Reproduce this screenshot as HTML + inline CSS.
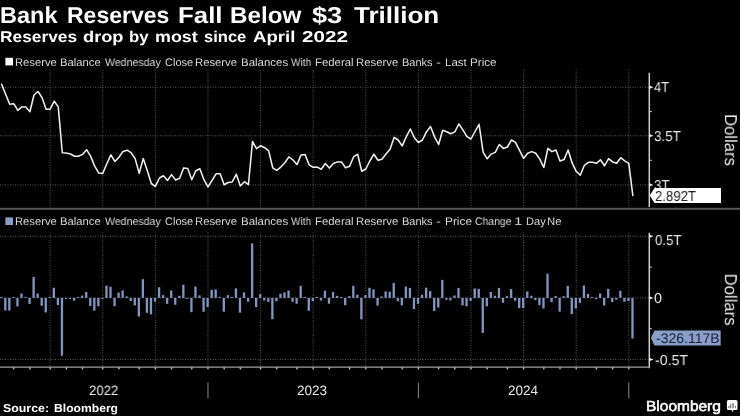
<!DOCTYPE html>
<html><head><meta charset="utf-8"><style>
html,body{margin:0;padding:0;background:#000;width:740px;height:416px;overflow:hidden}
body{position:relative;font-family:"Liberation Sans",sans-serif;color:#fff}
.t{position:absolute;white-space:pre;line-height:1;transform-origin:0 0;text-rendering:geometricPrecision;will-change:transform}
svg{position:absolute;left:0;top:0}
</style></head><body>
<svg width="740" height="416" viewBox="0 0 740 416">
<g stroke="#5a5a5a" stroke-width="1" stroke-dasharray="1 1.5" fill="none"><line x1="50.16" y1="69.8" x2="50.16" y2="207.5"/><line x1="102.76" y1="69.8" x2="102.76" y2="207.5"/><line x1="155.36" y1="69.8" x2="155.36" y2="207.5"/><line x1="207.97" y1="69.8" x2="207.97" y2="207.5"/><line x1="260.57" y1="69.8" x2="260.57" y2="207.5"/><line x1="313.17" y1="69.8" x2="313.17" y2="207.5"/><line x1="365.78" y1="69.8" x2="365.78" y2="207.5"/><line x1="418.38" y1="69.8" x2="418.38" y2="207.5"/><line x1="470.98" y1="69.8" x2="470.98" y2="207.5"/><line x1="523.59" y1="69.8" x2="523.59" y2="207.5"/><line x1="576.19" y1="69.8" x2="576.19" y2="207.5"/><line x1="628.79" y1="69.8" x2="628.79" y2="207.5"/><line x1="50.16" y1="232.4" x2="50.16" y2="366.5"/><line x1="102.76" y1="232.4" x2="102.76" y2="366.5"/><line x1="155.36" y1="232.4" x2="155.36" y2="366.5"/><line x1="207.97" y1="232.4" x2="207.97" y2="366.5"/><line x1="260.57" y1="232.4" x2="260.57" y2="366.5"/><line x1="313.17" y1="232.4" x2="313.17" y2="366.5"/><line x1="365.78" y1="232.4" x2="365.78" y2="366.5"/><line x1="418.38" y1="232.4" x2="418.38" y2="366.5"/><line x1="470.98" y1="232.4" x2="470.98" y2="366.5"/><line x1="523.59" y1="232.4" x2="523.59" y2="366.5"/><line x1="576.19" y1="232.4" x2="576.19" y2="366.5"/><line x1="628.79" y1="232.4" x2="628.79" y2="366.5"/><line x1="0" y1="87.3" x2="649.3" y2="87.3"/><line x1="0" y1="135.8" x2="649.3" y2="135.8"/><line x1="0" y1="184.9" x2="649.3" y2="184.9"/><line x1="0" y1="236.3" x2="649.3" y2="236.3"/><line x1="0" y1="297.9" x2="649.3" y2="297.9"/><line x1="0" y1="359.5" x2="649.3" y2="359.5"/></g>
<rect x="0" y="207.8" width="740" height="2" fill="#585858"/>
<g fill="#8296c2"><rect x="0.10" y="296.90" width="2.3" height="1.00"/><rect x="4.15" y="297.90" width="2.3" height="12.62"/><rect x="8.19" y="297.90" width="2.3" height="12.62"/><rect x="12.24" y="296.90" width="2.3" height="1.00"/><rect x="16.29" y="297.90" width="2.3" height="8.46"/><rect x="20.33" y="293.48" width="2.3" height="4.42"/><rect x="24.38" y="296.90" width="2.3" height="1.00"/><rect x="28.42" y="297.90" width="2.3" height="6.06"/><rect x="32.47" y="276.82" width="2.3" height="21.08"/><rect x="36.52" y="293.48" width="2.3" height="4.42"/><rect x="40.56" y="297.90" width="2.3" height="7.83"/><rect x="44.61" y="297.90" width="2.3" height="14.52"/><rect x="48.66" y="296.90" width="2.3" height="1.00"/><rect x="52.70" y="287.80" width="2.3" height="10.10"/><rect x="56.75" y="297.90" width="2.3" height="7.20"/><rect x="60.80" y="297.90" width="2.3" height="57.81"/><rect x="64.84" y="297.90" width="2.3" height="1.00"/><rect x="68.89" y="297.90" width="2.3" height="1.14"/><rect x="72.94" y="297.90" width="2.3" height="2.78"/><rect x="76.98" y="296.90" width="2.3" height="1.00"/><rect x="81.03" y="295.63" width="2.3" height="2.27"/><rect x="85.07" y="291.97" width="2.3" height="5.93"/><rect x="89.12" y="297.90" width="2.3" height="8.08"/><rect x="93.17" y="297.90" width="2.3" height="12.75"/><rect x="97.21" y="297.90" width="2.3" height="8.46"/><rect x="101.26" y="297.90" width="2.3" height="1.00"/><rect x="105.31" y="285.66" width="2.3" height="12.24"/><rect x="109.35" y="286.79" width="2.3" height="11.11"/><rect x="113.40" y="297.90" width="2.3" height="8.33"/><rect x="117.45" y="292.60" width="2.3" height="5.30"/><rect x="121.49" y="290.45" width="2.3" height="7.45"/><rect x="125.54" y="296.39" width="2.3" height="1.51"/><rect x="129.58" y="297.90" width="2.3" height="3.16"/><rect x="133.63" y="297.90" width="2.3" height="7.45"/><rect x="137.68" y="297.90" width="2.3" height="18.68"/><rect x="141.72" y="279.22" width="2.3" height="18.68"/><rect x="145.77" y="297.90" width="2.3" height="14.90"/><rect x="149.82" y="297.90" width="2.3" height="16.54"/><rect x="153.86" y="297.90" width="2.3" height="3.66"/><rect x="157.91" y="287.30" width="2.3" height="10.60"/><rect x="161.96" y="295.12" width="2.3" height="2.78"/><rect x="166.00" y="297.90" width="2.3" height="5.93"/><rect x="170.05" y="290.45" width="2.3" height="7.45"/><rect x="174.10" y="297.90" width="2.3" height="6.82"/><rect x="178.14" y="295.75" width="2.3" height="2.15"/><rect x="182.19" y="284.77" width="2.3" height="13.13"/><rect x="186.23" y="297.90" width="2.3" height="1.00"/><rect x="190.28" y="297.90" width="2.3" height="14.26"/><rect x="194.33" y="286.54" width="2.3" height="11.36"/><rect x="198.37" y="295.38" width="2.3" height="2.52"/><rect x="202.42" y="297.90" width="2.3" height="13.89"/><rect x="206.47" y="297.90" width="2.3" height="9.09"/><rect x="210.51" y="289.82" width="2.3" height="8.08"/><rect x="214.56" y="289.44" width="2.3" height="8.46"/><rect x="218.61" y="296.90" width="2.3" height="1.00"/><rect x="222.65" y="297.90" width="2.3" height="13.76"/><rect x="226.70" y="295.12" width="2.3" height="2.78"/><rect x="230.74" y="296.90" width="2.3" height="1.00"/><rect x="234.79" y="288.31" width="2.3" height="9.59"/><rect x="238.84" y="297.90" width="2.3" height="14.77"/><rect x="242.88" y="292.47" width="2.3" height="5.43"/><rect x="246.93" y="297.90" width="2.3" height="3.79"/><rect x="250.98" y="243.37" width="2.3" height="54.53"/><rect x="255.02" y="297.90" width="2.3" height="9.09"/><rect x="259.07" y="294.11" width="2.3" height="3.79"/><rect x="263.12" y="297.90" width="2.3" height="2.52"/><rect x="267.16" y="297.90" width="2.3" height="4.04"/><rect x="271.21" y="297.90" width="2.3" height="21.33"/><rect x="275.26" y="297.90" width="2.3" height="3.28"/><rect x="279.30" y="293.73" width="2.3" height="4.17"/><rect x="283.35" y="292.35" width="2.3" height="5.55"/><rect x="287.39" y="290.58" width="2.3" height="7.32"/><rect x="291.44" y="297.90" width="2.3" height="3.91"/><rect x="295.49" y="297.90" width="2.3" height="5.81"/><rect x="299.53" y="285.78" width="2.3" height="12.12"/><rect x="303.58" y="296.90" width="2.3" height="1.00"/><rect x="307.63" y="297.90" width="2.3" height="12.88"/><rect x="311.67" y="297.90" width="2.3" height="3.16"/><rect x="315.72" y="296.90" width="2.3" height="1.00"/><rect x="319.77" y="297.90" width="2.3" height="2.65"/><rect x="323.81" y="290.70" width="2.3" height="7.20"/><rect x="327.86" y="297.90" width="2.3" height="5.81"/><rect x="331.90" y="292.09" width="2.3" height="5.81"/><rect x="335.95" y="295.88" width="2.3" height="2.02"/><rect x="340.00" y="296.90" width="2.3" height="1.00"/><rect x="344.04" y="297.90" width="2.3" height="7.32"/><rect x="348.09" y="296.13" width="2.3" height="1.77"/><rect x="352.14" y="285.78" width="2.3" height="12.12"/><rect x="356.18" y="294.74" width="2.3" height="3.16"/><rect x="360.23" y="297.90" width="2.3" height="21.46"/><rect x="364.28" y="295.12" width="2.3" height="2.78"/><rect x="368.32" y="287.80" width="2.3" height="10.10"/><rect x="372.37" y="289.32" width="2.3" height="8.58"/><rect x="376.42" y="297.90" width="2.3" height="7.70"/><rect x="380.46" y="296.51" width="2.3" height="1.39"/><rect x="384.51" y="291.46" width="2.3" height="6.44"/><rect x="388.55" y="291.71" width="2.3" height="6.19"/><rect x="392.60" y="283.00" width="2.3" height="14.90"/><rect x="396.65" y="297.90" width="2.3" height="3.28"/><rect x="400.69" y="297.90" width="2.3" height="7.45"/><rect x="404.74" y="286.54" width="2.3" height="11.36"/><rect x="408.79" y="287.93" width="2.3" height="9.97"/><rect x="412.83" y="297.90" width="2.3" height="11.11"/><rect x="416.88" y="297.90" width="2.3" height="5.93"/><rect x="420.93" y="294.74" width="2.3" height="3.16"/><rect x="424.97" y="287.68" width="2.3" height="10.22"/><rect x="429.02" y="291.08" width="2.3" height="6.82"/><rect x="433.06" y="297.90" width="2.3" height="13.13"/><rect x="437.11" y="297.90" width="2.3" height="9.59"/><rect x="441.16" y="279.85" width="2.3" height="18.05"/><rect x="445.20" y="297.90" width="2.3" height="1.89"/><rect x="449.25" y="297.90" width="2.3" height="2.65"/><rect x="453.30" y="295.50" width="2.3" height="2.40"/><rect x="457.34" y="287.93" width="2.3" height="9.97"/><rect x="461.39" y="297.90" width="2.3" height="7.45"/><rect x="465.44" y="297.90" width="2.3" height="8.46"/><rect x="469.48" y="297.90" width="2.3" height="3.03"/><rect x="473.53" y="288.43" width="2.3" height="9.47"/><rect x="477.58" y="288.81" width="2.3" height="9.09"/><rect x="481.62" y="297.90" width="2.3" height="35.09"/><rect x="485.67" y="297.90" width="2.3" height="8.46"/><rect x="489.71" y="291.97" width="2.3" height="5.93"/><rect x="493.76" y="295.75" width="2.3" height="2.15"/><rect x="497.81" y="287.93" width="2.3" height="9.97"/><rect x="501.85" y="297.90" width="2.3" height="4.92"/><rect x="505.90" y="296.13" width="2.3" height="1.77"/><rect x="509.95" y="289.06" width="2.3" height="8.84"/><rect x="513.99" y="297.90" width="2.3" height="2.90"/><rect x="518.04" y="297.90" width="2.3" height="10.22"/><rect x="522.09" y="297.90" width="2.3" height="10.10"/><rect x="526.13" y="291.46" width="2.3" height="6.44"/><rect x="530.18" y="295.75" width="2.3" height="2.15"/><rect x="534.22" y="297.90" width="2.3" height="2.15"/><rect x="538.27" y="297.90" width="2.3" height="7.32"/><rect x="542.32" y="297.90" width="2.3" height="10.60"/><rect x="546.36" y="273.66" width="2.3" height="24.24"/><rect x="550.41" y="297.90" width="2.3" height="4.17"/><rect x="554.46" y="295.88" width="2.3" height="2.02"/><rect x="558.50" y="297.90" width="2.3" height="13.76"/><rect x="562.55" y="296.26" width="2.3" height="1.64"/><rect x="566.60" y="285.78" width="2.3" height="12.12"/><rect x="570.64" y="297.90" width="2.3" height="16.28"/><rect x="574.69" y="297.90" width="2.3" height="10.60"/><rect x="578.74" y="297.90" width="2.3" height="5.05"/><rect x="582.78" y="285.53" width="2.3" height="12.37"/><rect x="586.83" y="293.86" width="2.3" height="4.04"/><rect x="590.87" y="296.90" width="2.3" height="1.00"/><rect x="594.92" y="297.90" width="2.3" height="1.26"/><rect x="598.97" y="293.48" width="2.3" height="4.42"/><rect x="603.01" y="297.90" width="2.3" height="7.57"/><rect x="607.06" y="288.81" width="2.3" height="9.09"/><rect x="611.11" y="297.90" width="2.3" height="4.17"/><rect x="615.15" y="297.90" width="2.3" height="1.77"/><rect x="619.20" y="290.83" width="2.3" height="7.07"/><rect x="623.25" y="297.90" width="2.3" height="3.91"/><rect x="627.29" y="297.90" width="2.3" height="3.16"/><rect x="631.34" y="297.90" width="2.3" height="40.65"/></g>
<polyline points="1.60,84.20 5.65,94.20 9.69,104.20 13.74,103.70 17.79,110.40 21.83,106.90 25.88,106.90 29.92,111.70 33.97,95.00 38.02,91.50 42.06,97.70 46.11,109.20 50.16,109.20 54.20,101.20 58.25,106.90 62.30,152.70 66.34,153.10 70.39,154.00 74.44,156.20 78.48,156.20 82.53,154.40 86.57,149.70 90.62,156.10 94.67,166.20 98.71,172.90 102.76,173.40 106.81,163.70 110.85,154.90 114.90,161.50 118.95,157.30 122.99,151.40 127.04,150.20 131.08,152.70 135.13,158.60 139.18,173.40 143.22,158.60 147.27,170.40 151.32,183.50 155.36,186.40 159.41,178.00 163.46,175.80 167.50,180.50 171.55,174.60 175.60,180.00 179.64,178.30 183.69,167.90 187.73,168.40 191.78,179.70 195.83,170.70 199.87,168.70 203.92,179.70 207.97,186.90 212.01,180.50 216.06,173.80 220.11,173.80 224.15,184.70 228.20,182.50 232.24,181.90 236.29,174.30 240.34,186.00 244.38,181.70 248.43,184.70 252.48,141.50 256.52,148.70 260.57,145.70 264.62,147.70 268.66,150.90 272.71,167.80 276.76,170.40 280.80,167.10 284.85,162.70 288.89,156.90 292.94,160.00 296.99,164.60 301.03,155.00 305.08,154.60 309.13,164.80 313.17,167.30 317.22,167.10 321.27,169.20 325.31,163.50 329.36,168.10 333.40,163.50 337.45,161.90 341.50,161.90 345.54,167.70 349.59,166.30 353.64,156.70 357.68,154.20 361.73,171.20 365.78,169.00 369.82,161.00 373.87,154.20 377.92,160.30 381.96,159.20 386.01,154.10 390.05,149.20 394.10,137.40 398.15,140.00 402.19,145.90 406.24,136.90 410.29,129.00 414.33,137.80 418.38,142.50 422.43,140.00 426.47,131.90 430.52,126.50 434.56,136.90 438.61,144.50 442.66,130.20 446.70,131.70 450.75,133.80 454.80,131.90 458.84,124.00 462.89,129.90 466.94,136.60 470.98,139.00 475.03,131.50 479.08,124.30 483.12,152.10 487.17,158.80 491.21,154.10 495.26,152.40 499.31,144.50 503.35,148.40 507.40,147.00 511.45,140.00 515.49,142.30 519.54,150.40 523.59,158.40 527.63,153.30 531.68,151.60 535.72,153.30 539.77,159.10 543.82,167.50 547.86,148.30 551.91,151.60 555.96,150.00 560.00,160.90 564.05,159.60 568.10,150.00 572.14,162.90 576.19,171.30 580.24,175.30 584.28,165.50 588.33,162.30 592.37,162.30 596.42,163.30 600.47,159.80 604.51,165.80 608.56,158.60 612.61,161.90 616.65,163.30 620.70,157.70 624.75,160.80 628.79,163.30 632.84,195.50" fill="none" stroke="#f0f0f0" stroke-width="1.55" stroke-linejoin="round" stroke-linecap="round"/>
<g stroke="#cfcfcf" stroke-width="1.5">
<line x1="649.3" y1="72.7" x2="649.3" y2="207"/>
<line x1="649.3" y1="232.7" x2="649.3" y2="368.2"/>
</g>
<g fill="#ededed"><path d="M649.3 85.6 L653.5 87.3 L649.3 89.0 Z"/><path d="M649.3 134.10000000000002 L653.5 135.8 L649.3 137.5 Z"/><path d="M649.3 183.20000000000002 L653.5 184.9 L649.3 186.6 Z"/><path d="M649.3 234.60000000000002 L653.5 236.3 L649.3 238.0 Z"/><path d="M649.3 296.2 L653.5 297.9 L649.3 299.59999999999997 Z"/><path d="M649.3 357.8 L653.5 359.5 L649.3 361.2 Z"/></g>
<g stroke="#cfcfcf" stroke-width="1"><line x1="649.3" y1="111.6" x2="651.8" y2="111.6"/><line x1="649.3" y1="160.3" x2="651.8" y2="160.3"/><line x1="649.3" y1="267.1" x2="651.8" y2="267.1"/><line x1="649.3" y1="328.7" x2="651.8" y2="328.7"/></g>
<line x1="0" y1="367.2" x2="650.0" y2="367.2" stroke="#a0a0a0" stroke-width="1.3"/>
<g fill="#b4b4b4"><path d="M12.44 367.5 L15.04 367.5 L13.74 370 Z"/><path d="M28.62 367.5 L31.22 367.5 L29.92 370 Z"/><path d="M48.86 367.5 L51.46 367.5 L50.16 370 Z"/><path d="M65.04 367.5 L67.64 367.5 L66.34 370 Z"/><path d="M81.23 367.5 L83.83 367.5 L82.53 370 Z"/><path d="M101.46 367.5 L104.06 367.5 L102.76 370 Z"/><path d="M117.65 367.5 L120.25 367.5 L118.95 370 Z"/><path d="M137.88 367.5 L140.48 367.5 L139.18 370 Z"/><path d="M154.06 367.5 L156.66 367.5 L155.36 370 Z"/><path d="M170.25 367.5 L172.85 367.5 L171.55 370 Z"/><path d="M190.48 367.5 L193.08 367.5 L191.78 370 Z"/><path d="M206.67 367.5 L209.27 367.5 L207.97 370 Z"/><path d="M222.85 367.5 L225.45 367.5 L224.15 370 Z"/><path d="M239.04 367.5 L241.64 367.5 L240.34 370 Z"/><path d="M259.27 367.5 L261.87 367.5 L260.57 370 Z"/><path d="M275.46 367.5 L278.06 367.5 L276.76 370 Z"/><path d="M295.69 367.5 L298.29 367.5 L296.99 370 Z"/><path d="M311.87 367.5 L314.47 367.5 L313.17 370 Z"/><path d="M328.06 367.5 L330.66 367.5 L329.36 370 Z"/><path d="M348.29 367.5 L350.89 367.5 L349.59 370 Z"/><path d="M364.48 367.5 L367.08 367.5 L365.78 370 Z"/><path d="M380.66 367.5 L383.26 367.5 L381.96 370 Z"/><path d="M400.89 367.5 L403.49 367.5 L402.19 370 Z"/><path d="M417.08 367.5 L419.68 367.5 L418.38 370 Z"/><path d="M437.31 367.5 L439.91 367.5 L438.61 370 Z"/><path d="M453.50 367.5 L456.10 367.5 L454.80 370 Z"/><path d="M469.68 367.5 L472.28 367.5 L470.98 370 Z"/><path d="M485.87 367.5 L488.47 367.5 L487.17 370 Z"/><path d="M506.10 367.5 L508.70 367.5 L507.40 370 Z"/><path d="M522.29 367.5 L524.89 367.5 L523.59 370 Z"/><path d="M542.52 367.5 L545.12 367.5 L543.82 370 Z"/><path d="M558.70 367.5 L561.30 367.5 L560.00 370 Z"/><path d="M574.89 367.5 L577.49 367.5 L576.19 370 Z"/><path d="M595.12 367.5 L597.72 367.5 L596.42 370 Z"/><path d="M611.31 367.5 L613.91 367.5 L612.61 370 Z"/><path d="M627.49 367.5 L630.09 367.5 L628.79 370 Z"/></g>
<g stroke="#8a8a8a" stroke-width="1"><line x1="207.97" y1="382.6" x2="207.97" y2="398.4"/><line x1="418.38" y1="382.6" x2="418.38" y2="398.4"/><line x1="628.79" y1="382.6" x2="628.79" y2="398.4"/></g>
<rect x="5.4" y="57.8" width="7.6" height="7.6" fill="#fff"/>
<rect x="5.4" y="217.4" width="7.6" height="7.6" fill="#8a9cc8"/>
</svg>
<div class="t" style="left:0.30px;top:3.69px;font-size:23px;font-weight:700;color:#fff;transform:scaleX(1.0215);">Bank</div><div class="t" style="left:67.13px;top:3.69px;font-size:23px;font-weight:700;color:#fff;transform:scaleX(0.9971);">Reserves</div><div class="t" style="left:178.05px;top:3.69px;font-size:23px;font-weight:700;color:#fff;transform:scaleX(1.1224);">Fall</div><div class="t" style="left:230.25px;top:3.69px;font-size:23px;font-weight:700;color:#fff;transform:scaleX(1.0532);">Below</div><div class="t" style="left:312.13px;top:3.69px;font-size:23px;font-weight:700;color:#fff;transform:scaleX(1.1807);">$3</div><div class="t" style="left:353.74px;top:3.69px;font-size:23px;font-weight:700;color:#fff;transform:scaleX(1.1307);">Trillion</div><div class="t" style="left:0.16px;top:29.79px;font-size:15.7px;font-weight:700;color:#fff;transform:scaleX(1.1057);">Reserves</div><div class="t" style="left:83.19px;top:29.79px;font-size:15.7px;font-weight:700;color:#fff;transform:scaleX(1.1613);">drop</div><div class="t" style="left:129.07px;top:29.79px;font-size:15.7px;font-weight:700;color:#fff;transform:scaleX(1.0711);">by</div><div class="t" style="left:154.69px;top:29.79px;font-size:15.7px;font-weight:700;color:#fff;transform:scaleX(1.1409);">most</div><div class="t" style="left:204.15px;top:29.79px;font-size:15.7px;font-weight:700;color:#fff;transform:scaleX(1.0534);">since</div><div class="t" style="left:253.40px;top:29.79px;font-size:15.7px;font-weight:700;color:#fff;transform:scaleX(1.1846);">April</div><div class="t" style="left:302.06px;top:29.79px;font-size:15.7px;font-weight:700;color:#fff;transform:scaleX(1.3148);">2022</div><div class="t" style="left:14.92px;top:57.65px;font-size:11px;font-weight:400;color:#d9d9d9;transform:scaleX(1.0206);">Reserve</div><div class="t" style="left:59.92px;top:57.65px;font-size:11px;font-weight:400;color:#d9d9d9;transform:scaleX(1.0237);">Balance</div><div class="t" style="left:104.81px;top:57.65px;font-size:11px;font-weight:400;color:#d9d9d9;transform:scaleX(0.9621);">Wednesday</div><div class="t" style="left:164.88px;top:57.65px;font-size:11px;font-weight:400;color:#d9d9d9;transform:scaleX(0.9830);">Close</div><div class="t" style="left:195.42px;top:57.65px;font-size:11px;font-weight:400;color:#d9d9d9;transform:scaleX(1.0257);">Reserve</div><div class="t" style="left:240.80px;top:57.65px;font-size:11px;font-weight:400;color:#d9d9d9;transform:scaleX(1.0436);">Balances</div><div class="t" style="left:291.23px;top:57.65px;font-size:11px;font-weight:400;color:#d9d9d9;transform:scaleX(0.9163);">With</div><div class="t" style="left:314.51px;top:57.65px;font-size:11px;font-weight:400;color:#d9d9d9;transform:scaleX(1.0322);">Federal</div><div class="t" style="left:356.01px;top:57.65px;font-size:11px;font-weight:400;color:#d9d9d9;transform:scaleX(1.0307);">Reserve</div><div class="t" style="left:401.94px;top:57.65px;font-size:11px;font-weight:400;color:#d9d9d9;transform:scaleX(1.0021);">Banks</div><div class="t" style="left:436.48px;top:57.65px;font-size:11px;font-weight:400;color:#d9d9d9;transform:scaleX(1.3529);">-</div><div class="t" style="left:445.00px;top:57.65px;font-size:11px;font-weight:400;color:#d9d9d9;transform:scaleX(1.0439);">Last</div><div class="t" style="left:469.88px;top:57.65px;font-size:11px;font-weight:400;color:#d9d9d9;transform:scaleX(1.0620);">Price</div><div class="t" style="left:14.92px;top:216.95px;font-size:11px;font-weight:400;color:#d9d9d9;transform:scaleX(1.0206);">Reserve</div><div class="t" style="left:59.92px;top:216.95px;font-size:11px;font-weight:400;color:#d9d9d9;transform:scaleX(1.0237);">Balance</div><div class="t" style="left:104.81px;top:216.95px;font-size:11px;font-weight:400;color:#d9d9d9;transform:scaleX(0.9621);">Wednesday</div><div class="t" style="left:164.88px;top:216.95px;font-size:11px;font-weight:400;color:#d9d9d9;transform:scaleX(0.9830);">Close</div><div class="t" style="left:195.42px;top:216.95px;font-size:11px;font-weight:400;color:#d9d9d9;transform:scaleX(1.0257);">Reserve</div><div class="t" style="left:240.80px;top:216.95px;font-size:11px;font-weight:400;color:#d9d9d9;transform:scaleX(1.0436);">Balances</div><div class="t" style="left:291.23px;top:216.95px;font-size:11px;font-weight:400;color:#d9d9d9;transform:scaleX(0.9163);">With</div><div class="t" style="left:314.51px;top:216.95px;font-size:11px;font-weight:400;color:#d9d9d9;transform:scaleX(1.0322);">Federal</div><div class="t" style="left:356.01px;top:216.95px;font-size:11px;font-weight:400;color:#d9d9d9;transform:scaleX(1.0307);">Reserve</div><div class="t" style="left:401.94px;top:216.95px;font-size:11px;font-weight:400;color:#d9d9d9;transform:scaleX(1.0021);">Banks</div><div class="t" style="left:436.48px;top:216.95px;font-size:11px;font-weight:400;color:#d9d9d9;transform:scaleX(1.3529);">-</div><div class="t" style="left:444.87px;top:216.95px;font-size:11px;font-weight:400;color:#d9d9d9;transform:scaleX(1.0788);">Price</div><div class="t" style="left:475.30px;top:216.95px;font-size:11px;font-weight:400;color:#d9d9d9;transform:scaleX(0.9460);">Change</div><div class="t" style="left:514.05px;top:216.95px;font-size:11px;font-weight:400;color:#d9d9d9;transform:scaleX(1.3726);">1</div><div class="t" style="left:525.63px;top:216.95px;font-size:11px;font-weight:400;color:#d9d9d9;transform:scaleX(1.0081);">Day</div><div class="t" style="left:547.41px;top:216.95px;font-size:11px;font-weight:400;color:#d9d9d9;transform:scaleX(1.0291);">Ne</div><div class="t" style="left:654.31px;top:81.00px;font-size:14.4px;font-weight:400;color:#e8e8e8;transform:scaleX(0.8956);">4T</div><div class="t" style="left:654.32px;top:129.80px;font-size:14.4px;font-weight:400;color:#e8e8e8;transform:scaleX(0.9323);">3.5T</div><div class="t" style="left:654.12px;top:178.90px;font-size:14.4px;font-weight:400;color:#e8e8e8;transform:scaleX(0.9315);">3T</div><div class="t" style="left:654.80px;top:234.20px;font-size:14.4px;font-weight:400;color:#e8e8e8;transform:scaleX(0.9189);">0.5T</div><div class="t" style="left:654.46px;top:291.90px;font-size:14.4px;font-weight:400;color:#e8e8e8;transform:scaleX(0.9847);">0</div><div class="t" style="left:655.14px;top:353.50px;font-size:14.4px;font-weight:400;color:#e8e8e8;transform:scaleX(0.9850);">-0.5T</div><div class="t" style="left:89.39px;top:384.48px;font-size:13.5px;font-weight:400;color:#e8e8e8;transform:scaleX(0.9768);">2022</div><div class="t" style="left:297.28px;top:384.48px;font-size:13.5px;font-weight:400;color:#e8e8e8;transform:scaleX(0.9927);">2023</div><div class="t" style="left:508.38px;top:384.48px;font-size:13.5px;font-weight:400;color:#e8e8e8;transform:scaleX(0.9986);">2024</div><div class="t" style="left:3.19px;top:403.60px;font-size:11.5px;font-weight:700;color:#fff;transform:scaleX(1.0753);">Source:</div><div class="t" style="left:54.16px;top:403.60px;font-size:11.5px;font-weight:700;color:#fff;transform:scaleX(1.0545);">Bloomberg</div><div class="t" style="left:645.56px;top:399.50px;font-size:14.6px;font-weight:400;color:#fff;transform:scaleX(1.0610);-webkit-text-stroke:0.55px #fff;">Bloomberg</div>
<div class="t" style="left:0;top:0;font-size:17.3px;color:#e8e8e8;transform:translate(738.90px,114.08px) rotate(90deg) scaleX(0.9631)">Dollars</div><div class="t" style="left:0;top:0;font-size:17.3px;color:#e8e8e8;transform:translate(738.90px,273.68px) rotate(90deg) scaleX(0.9631)">Dollars</div>
<svg width="740" height="416" viewBox="0 0 740 416">
<path d="M649.7 195.6 L654.5 188.1 L721 188.1 L721 203 L654.5 203 Z" fill="#fff"/>
<path d="M650.9 338 L654.4 330.4 L720.7 330.4 L720.7 345.4 L654.4 345.4 Z" fill="#8a9cc8"/>
<g transform="translate(726.9,400.1)">
<path d="M1.5 0 H9.1 Q10.6 0 10.6 1.5 V8.5 Q10.6 10 9.1 10 H6.5 L5.5 12 L4.5 10 H1.5 Q0 10 0 8.5 V1.5 Q0 0 1.5 0 Z" fill="#fff"/>
<rect x="1.4" y="5.9" width="1.2" height="2.2" fill="#777"/>
<rect x="3.2" y="3.8" width="1.2" height="4.3" fill="#777"/>
<rect x="5.5" y="3" width="1.4" height="5.1" fill="#777"/>
<rect x="8.1" y="5.9" width="1" height="2.2" fill="#777"/>
</g>
</svg>
<div class="t" style="left:655.09px;top:189.80px;font-size:14.5px;font-weight:400;color:#222;transform:scaleX(0.9084);">2.892T</div>
<div class="t" style="left:656.08px;top:330.65px;font-size:14px;font-weight:400;color:#1a2236;transform:scaleX(0.9938);">-326.117B</div>
</body></html>
